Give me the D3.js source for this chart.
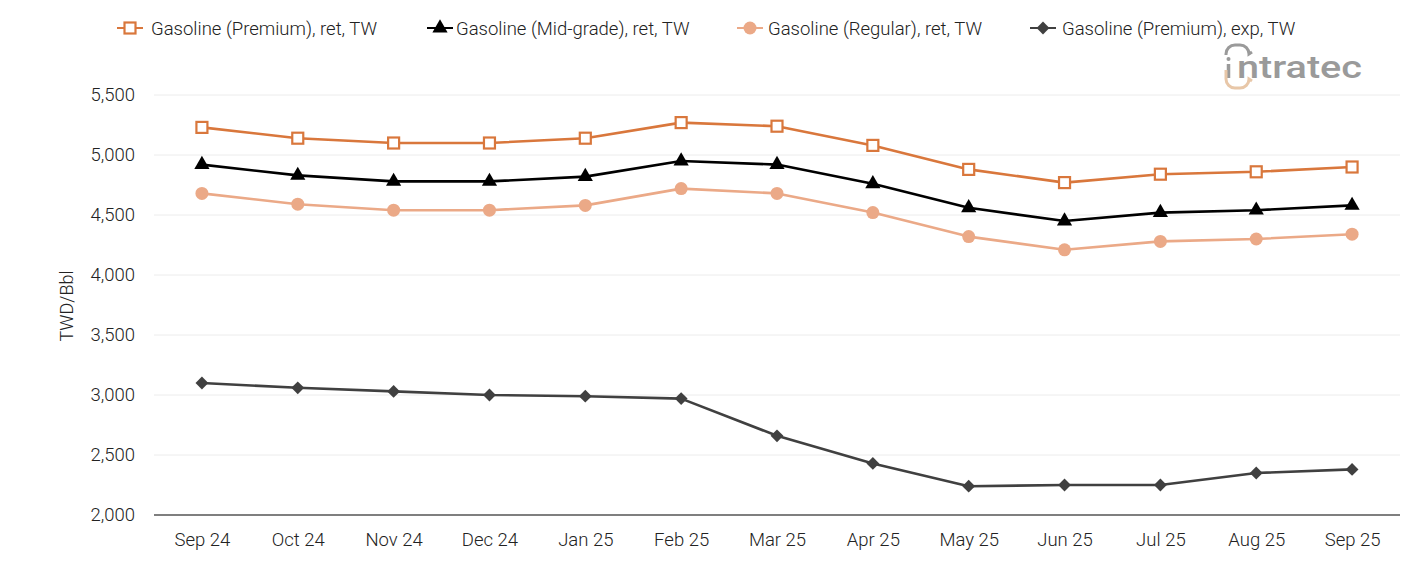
<!DOCTYPE html>
<html><head><meta charset="utf-8">
<script src="https://cdn.jsdelivr.net/npm/d3@7/dist/d3.min.js"></script>
<style>
body{margin:0;background:#fff;}
text{font-family:Roboto,"Noto Sans",sans-serif;}
</style></head>
<body><svg id="c" width="1401" height="561"></svg>
<script>
const categories = ["Sep 24","Oct 24","Nov 24","Dec 24","Jan 25","Feb 25","Mar 25","Apr 25","May 25","Jun 25","Jul 25","Aug 25","Sep 25"];
const premiumRet = [5230,5140,5100,5100,5140,5270,5240,5080,4880,4770,4840,4860,4900];
const midRet = [4920,4830,4780,4780,4820,4950,4920,4760,4560,4450,4520,4540,4580];
const regularRet = [4680,4590,4540,4540,4580,4720,4680,4520,4320,4210,4280,4300,4340];
const premiumExp = [3100,3060,3030,3000,2990,2970,2660,2430,2240,2250,2250,2350,2380];
const yTicks = [2000,2500,3000,3500,4000,4500,5000,5500];
const seriesNames = ["Gasoline (Premium), ret, TW","Gasoline (Mid-grade), ret, TW","Gasoline (Regular), ret, TW","Gasoline (Premium), exp, TW"];

const series = [
  {name:seriesNames[0], values:premiumRet, color:"#D9773C", marker:"square"},
  {name:seriesNames[1], values:midRet, color:"#000000", marker:"triangle"},
  {name:seriesNames[2], values:regularRet, color:"#EBA987", marker:"circle"},
  {name:seriesNames[3], values:premiumExp, color:"#404040", marker:"diamond"}
];

const FW = 300;
const svg = d3.select("#c");
const pL=154, pR=1400, pT=95, pB=515;
const x = d3.scalePoint().domain(categories).range([pL,pR]).padding(0.5);
const y = d3.scaleLinear().domain([2000,5500]).range([pB,pT]);

// gridlines
svg.append("g").selectAll("line").data(yTicks.filter(d=>d>2000)).join("line")
  .attr("x1",pL).attr("x2",pR).attr("y1",d=>y(d)).attr("y2",d=>y(d))
  .attr("stroke","#ececec").attr("stroke-width",1);

// y axis labels
const yAxis = d3.axisLeft(y).tickValues(yTicks).tickFormat(d3.format(",")).tickSize(0).tickPadding(0);
const ya = svg.append("g").attr("transform",`translate(${pL-19},0)`).call(yAxis);
ya.select(".domain").remove();
ya.selectAll("text").attr("font-size",18.5).attr("font-weight",FW).attr("fill","#222").style("font-family","Roboto, sans-serif");

// x axis
const xAxis = d3.axisBottom(x).tickSize(0).tickPadding(18);
const xa = svg.append("g").attr("transform",`translate(0,${pB})`).call(xAxis);
xa.select(".domain").attr("stroke","#555").attr("stroke-width",1.5).attr("d",`M${pL},0H${pR}`);
xa.selectAll("text").attr("font-size",18.5).attr("font-weight",FW).attr("fill","#222").style("font-family","Roboto, sans-serif");

// y title
svg.append("text").attr("transform","translate(73,306) rotate(-90)").attr("text-anchor","middle")
  .attr("font-size",18).attr("font-weight",FW).attr("fill","#222").text("TWD/Bbl");

function drawMarker(g, type, color, cx, cy){
  if(type==="square"){
    g.append("rect").attr("x",cx-5.5).attr("y",cy-5.5).attr("width",11).attr("height",11)
      .attr("fill","#fff").attr("stroke",color).attr("stroke-width",2.2);
  } else if(type==="triangle"){
    g.append("path").attr("d",d3.symbol().type(d3.symbolTriangle).size(100)()).attr("transform",`translate(${cx},${cy})`).attr("fill",color);
  } else if(type==="circle"){
    g.append("circle").attr("cx",cx).attr("cy",cy).attr("r",6.5).attr("fill",color);
  } else {
    g.append("path").attr("d",d3.symbol().type(d3.symbolSquare).size(82)()).attr("transform",`translate(${cx},${cy}) rotate(45)`).attr("fill",color);
  }
}

const line = d3.line().x((d,i)=>x(categories[i])).y(d=>y(d));
[3,2,1,0].forEach(k=>{
  const s=series[k];
  svg.append("path").datum(s.values).attr("d",line).attr("fill","none")
    .attr("stroke",s.color).attr("stroke-width",2.6).attr("stroke-linejoin","round");
  const g=svg.append("g");
  s.values.forEach((v,i)=>drawMarker(g,s.marker,s.color,x(categories[i]),y(v)));
});

// legend
const legX=[117,427,737,1030];
const legTX=[151,456,768,1062];
series.forEach((s,i)=>{
  const g=svg.append("g");
  g.append("line").attr("x1",legX[i]).attr("x2",legX[i]+26).attr("y1",28).attr("y2",28).attr("stroke",s.color).attr("stroke-width",2);
  drawMarker(g,s.marker,s.color,legX[i]+13,28);
  g.append("text").attr("x",legTX[i]).attr("y",34.5).attr("font-size",18.5).attr("font-weight",FW).attr("fill","#222").text(s.name);
});

// logo
const logo=svg.append("g");
logo.append("text").attr("x",1237).attr("y",78).attr("font-size",32).attr("fill","#9a9a9a").attr("font-weight",500)
  .attr("textLength",125).attr("lengthAdjust","spacingAndGlyphs").text("ntratec");
logo.append("line").attr("x1",1228.5).attr("x2",1228.5).attr("y1",64).attr("y2",78).attr("stroke","#9a9a9a").attr("stroke-width",3.5);
logo.append("circle").attr("cx",1228.5).attr("cy",59).attr("r",2).attr("fill","#9a9a9a");
logo.append("path").attr("d","M1226,55 v-1 a9,9 0 0 1 9,-9 h5 a9,9 0 0 1 9,9 l3,-2").attr("fill","none").attr("stroke","#9a9a9a").attr("stroke-width",3);
logo.append("path").attr("d","M1226,70 v9 a9,9 0 0 0 9,9 h5 a9,9 0 0 0 9,-9 l3,2").attr("fill","none").attr("stroke","#E8C7A8").attr("stroke-width",3);
</script></body></html>
